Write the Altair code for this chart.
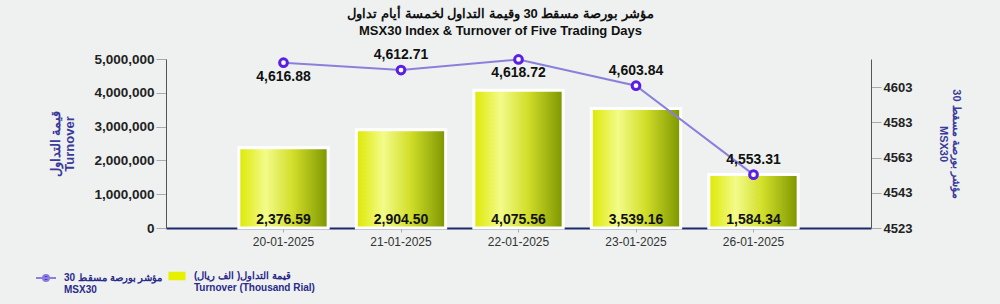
import altair as alt
import pandas as pd

dates = ["20-01-2025", "21-01-2025", "22-01-2025", "23-01-2025", "26-01-2025"]
turnover_thousand = [2376.59, 2904.50, 4075.56, 3539.16, 1584.34]
msx30 = [4616.88, 4612.71, 4618.72, 4603.84, 4553.31]
label_pos = ["below", "above", "below", "above", "above"]

left_ticks = [0, 1000000, 2000000, 3000000, 4000000, 5000000]
right_ticks = [4523, 4543, 4563, 4583, 4603]

title_lines = ["مؤشر بورصة مسقط 30 وقيمة التداول لخمسة أيام تداول",
               "MSX30 Index & Turnover of Five Trading Days"]
left_title = ["قيمة التداول", "Turnover"]
right_title = ["مؤشر بورصة مسقط 30", "MSX30"]
legend_turnover = "قيمة التداول( الف ريال)|Turnover (Thousand Rial)"
legend_msx = "مؤشر بورصة مسقط 30|MSX30"

df = pd.DataFrame({
    "date": dates,
    "turnover_k": turnover_thousand,
    "msx": msx30,
    "pos": label_pos,
})

FONT = "Liberation Sans"

x_enc = alt.X("date:N", sort=dates,
              scale=alt.Scale(paddingInner=0.24, paddingOuter=0.62),
              axis=alt.Axis(title=None, labelAngle=0, labelFontSize=12,
                            labelColor="#333333", domainColor="#1c2a6b",
                            domainWidth=2, tickColor="#aaaaaa", tickSize=4,
                            labelPadding=4))

left_scale = alt.Scale(domain=[0, 5000000], nice=False)
left_axis = alt.Axis(title=left_title, values=left_ticks, format=",.0f",
                     labelFontSize=13.5, labelFontWeight="bold",
                     labelColor="#222222", domainColor="#555555",
                     tickColor="#aaaaaa", tickSize=10, labelPadding=2,
                     titleColor="#3a3a9c", titleFontSize=13,
                     titleFontWeight="bold", titlePadding=17,
                     titleLineHeight=14, grid=False, orient="left")
y_left = alt.Y("turnover:Q", scale=left_scale, axis=left_axis)

gradient = alt.Gradient(
    gradient="linear", x1=0, x2=1, y1=0, y2=0,
    stops=[alt.GradientStop(offset=0, color="#dde800"),
           alt.GradientStop(offset=0.3, color="#f3fb8a"),
           alt.GradientStop(offset=0.6, color="#d2df2a"),
           alt.GradientStop(offset=1, color="#7d9600")])

base = alt.Chart(df).transform_calculate(
    turnover="datum.turnover_k * 1000",
    zero="0",
    leg_t="'" + legend_turnover + "'",
    leg_m="'" + legend_msx + "'",
)

bars = base.mark_bar(fill=gradient, stroke="white", strokeWidth=3).encode(
    x=x_enc, y=y_left)

bar_labels = base.mark_text(font=FONT, fontSize=14, fontWeight="bold",
                            color="#111111", baseline="bottom", dy=-1).encode(
    x=x_enc,
    y=alt.Y("zero:Q", scale=left_scale, axis=left_axis),
    text=alt.Text("turnover_k:Q", format=",.2f"),
)

legend_common = dict(title=None, orient="none", legendY=208,
                     labelExpr="split(datum.label, '|')",
                     labelFont=FONT, labelFontSize=10,
                     labelFontWeight="bold", labelColor="#2a2a8a",
                     labelLimit=300, labelBaseline="middle")

legend_dummy = base.mark_point(opacity=0).encode(
    x=x_enc,
    fill=alt.Fill("leg_t:N", scale=alt.Scale(range=["#e6f000"]),
                  legend=alt.Legend(legendX=2,
                                    symbolType="M-1,-0.5H1V0.5H-1Z",
                                    symbolSize=290, symbolOpacity=1,
                                    symbolStrokeWidth=0, labelOffset=8,
                                    **legend_common)),
)

left_layer = alt.layer(bars, bar_labels, legend_dummy)

y_right_scale = alt.Scale(domain=[4523, 4619], nice=False, zero=False)
y_right = alt.Y("msx:Q", scale=y_right_scale,
                axis=alt.Axis(title=right_title, values=right_ticks, format="d",
                              labelFontSize=13, labelFontWeight="bold",
                              labelColor="#222222", domainColor="#555555",
                              tickColor="#aaaaaa", tickSize=10, labelPadding=2,
                              titleColor="#3a3a9c", titleFontSize=11,
                              titleFontWeight="bold", titleAngle=90,
                              titlePadding=26, titleLineHeight=13,
                              grid=False, orient="right"))

line = base.mark_line(strokeWidth=2).encode(
    x=x_enc, y=y_right,
    stroke=alt.Stroke("leg_m:N", scale=alt.Scale(range=["#8a80dc"]),
                      legend=alt.Legend(legendX=-131,
                                        symbolType="M-1,0H1M0.3,0A0.3,0.3 0 1,1 -0.3,0A0.3,0.3 0 1,1 0.3,0",
                                        symbolSize=400, symbolStrokeWidth=2,
                                        symbolFillColor="#5a1ee6", labelOffset=7,
                                        **legend_common)),
)

points = base.mark_point(filled=False, fill="white", fillOpacity=1,
                         stroke="#5a1ee6", strokeWidth=3, size=60,
                         opacity=1).encode(x=x_enc, y=y_right)

lbl_above = base.mark_text(font=FONT, fontSize=14, fontWeight="bold",
                           color="#111111", dy=-15).encode(
    x=x_enc, y=y_right, text=alt.Text("msx:Q", format=",.2f"),
).transform_filter("datum.pos == 'above'")

lbl_below = base.mark_text(font=FONT, fontSize=14, fontWeight="bold",
                           color="#111111", dy=14).encode(
    x=x_enc, y=y_right, text=alt.Text("msx:Q", format=",.2f"),
).transform_filter("datum.pos == 'below'")

right_layer = alt.layer(line, points, lbl_above, lbl_below)

chart = alt.layer(left_layer, right_layer).resolve_scale(
    y="independent", fill="independent", stroke="independent"
).properties(
    width=705, height=169,
    autosize=alt.AutoSizeParams(type="none"),
    padding={"left": 166, "top": 59, "right": 129, "bottom": 76},
    background="#eef1f0",
    title=alt.TitleParams(text=title_lines, anchor="middle", dx=-18,
                          font=FONT, fontSize=13, fontWeight="bold",
                          color="#111111", offset=10, lineHeight=17),
).configure_view(stroke=None).configure_axis(labelFont=FONT, titleFont=FONT)

chart.save("out.html", embed_options={"renderer": "svg", "actions": False})
